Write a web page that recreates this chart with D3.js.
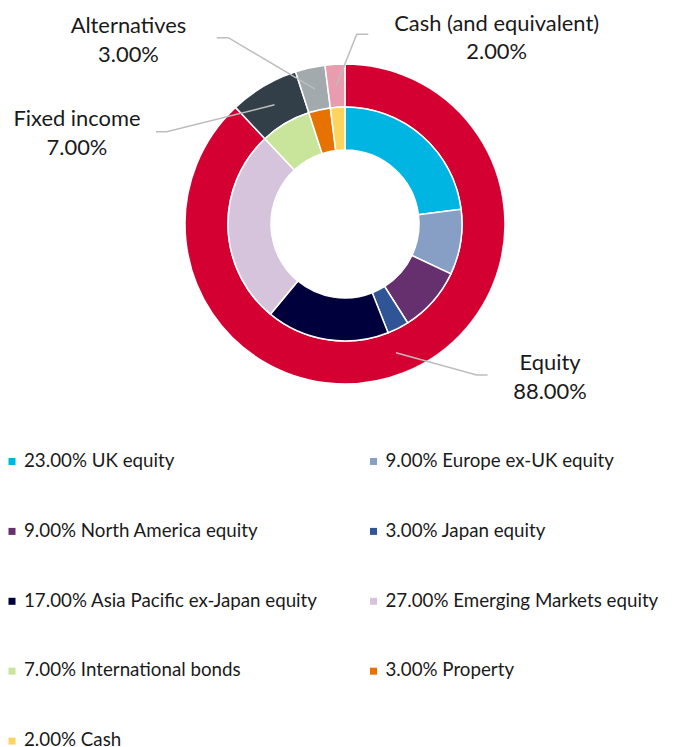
<!DOCTYPE html>
<html>
<head>
<meta charset="utf-8">
<script src="https://cdn.jsdelivr.net/npm/d3@7"></script>
<style>
  html, body { margin: 0; padding: 0; background: #ffffff; }
  svg { display: block; }
  text { font-family: Lato, "Noto Sans", sans-serif; fill: #1a1a1a; }
</style>
</head>
<body>
<script>
// ---- data ----
const outerCategories = ["Equity", "Fixed income", "Alternatives", "Cash (and equivalent)"];
const outerValues = [88, 7, 3, 2];
const outerColors = ["#d50032", "#333f48", "#a3aaae", "#e89cae"];

const innerCategories = ["UK equity", "Europe ex-UK equity", "North America equity", "Japan equity",
  "Asia Pacific ex-Japan equity", "Emerging Markets equity", "International bonds", "Property", "Cash"];
const innerValues = [23, 9, 9, 3, 17, 27, 7, 3, 2];
const innerColors = ["#00b5e2", "#879fc5", "#662f6e", "#2f5597", "#00003c", "#d6c4dc", "#c8e59b", "#e87200", "#ffd45e"];

// label layout (elbow point, end of leader, label centre, first baseline)
const labelLayout = [
  { elbow: [476.7, 375], end: [487.5, 375], tx: 550, ty: 370 },
  { elbow: [166.7, 131.7], end: [156, 131.7], tx: 77, ty: 126 },
  { elbow: [228.3, 37.7], end: [216.7, 37.7], tx: 128.5, ty: 33.3 },
  { elbow: [356.7, 34.3], end: [368.3, 34.3], tx: 496.7, ty: 30.5 }
];

const W = 674, H = 747;
const cx = 345, cy = 224;

const svg = d3.select("body").append("svg").attr("width", W).attr("height", H);
const g = svg.append("g").attr("transform", `translate(${cx},${cy})`);

const pie = d3.pie().sort(null).value(d => d);
const outerArc = d3.arc().innerRadius(117).outerRadius(160);
const innerArc = d3.arc().innerRadius(74).outerRadius(117);

const outerData = pie(outerValues);
const innerData = pie(innerValues);

g.selectAll("path.outer").data(outerData).enter().append("path")
  .attr("class", "outer")
  .attr("d", outerArc)
  .attr("fill", (d, i) => outerColors[i])
  .attr("stroke", "#fff").attr("stroke-width", 1.5);

g.selectAll("path.inner").data(innerData).enter().append("path")
  .attr("class", "inner")
  .attr("d", innerArc)
  .attr("fill", (d, i) => innerColors[i])
  .attr("stroke", "#fff").attr("stroke-width", 1.5);

// leader lines
const fmt = v => v.toFixed(2) + "%";
outerData.forEach((d, i) => {
  const c = outerArc.centroid(d);
  const L = labelLayout[i];
  svg.append("polyline")
    .attr("points", [[c[0] + cx, c[1] + cy], L.elbow, L.end].map(p => p.join(",")).join(" "))
    .attr("fill", "none").attr("stroke", "#bdbdbd").attr("stroke-width", 1.5);
});

// fit font sizes
function fitSize(str, target) {
  const t = svg.append("text").attr("font-size", 20).text(str);
  const w = t.node().getComputedTextLength();
  t.remove();
  return 20 * target / w;
}
const labelSize = fitSize("Cash (and equivalent)", 205);
const legendSize = fitSize("27.00% Emerging Markets equity", 273);

outerData.forEach((d, i) => {
  const L = labelLayout[i];
  const t = svg.append("text").attr("text-anchor", "middle").attr("font-size", labelSize);
  t.append("tspan").attr("x", L.tx).attr("y", L.ty).text(outerCategories[i]);
  t.append("tspan").attr("x", L.tx).attr("y", L.ty + 28.5).text(fmt(outerValues[i]));
});

// legend
const colX = [8.5, 370];
const rowY = 458;
const rowStep = 69.9;
innerCategories.forEach((name, i) => {
  const col = i % 2, row = Math.floor(i / 2);
  const x = colX[col], y = rowY + row * rowStep;
  svg.append("rect").attr("x", x).attr("y", y).attr("width", 7).attr("height", 7)
    .attr("fill", innerColors[i]);
  svg.append("text").attr("x", x + 15.5).attr("y", y + 8.7)
    .attr("font-size", legendSize)
    .text(fmt(innerValues[i]) + " " + name);
});
</script>
</body>
</html>
